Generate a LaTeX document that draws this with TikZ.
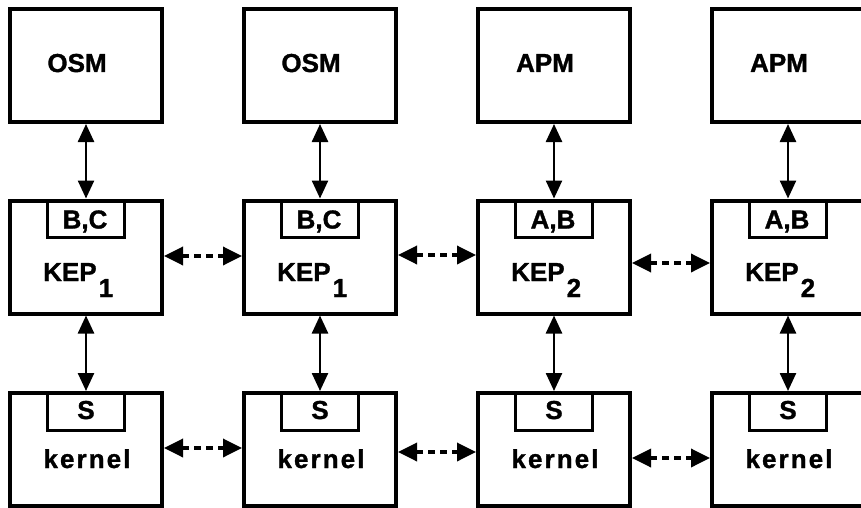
\documentclass[tikz,border=0pt]{standalone}
\usepackage{fontspec}
\setmainfont{Liberation Sans}[BoldFont={Liberation Sans Bold},BoldFeatures={FakeBold=1.2}]
\newfontfamily\kfont{Liberation Sans Bold}[LetterSpace=8,FakeBold=1.2]
\usetikzlibrary{arrows.meta,calc}
\begin{document}
\begin{tikzpicture}[x=1pt,y=-1pt,
  box/.style={draw,line width=4pt,minimum width=152pt,minimum height=113pt,inner sep=0pt},
  ibox/.style={draw,line width=3pt,minimum width=77pt,minimum height=37pt,inner sep=0pt,outer sep=0pt,anchor=north},
  txt/.style={font=\fontsize{26}{26}\selectfont\bfseries,inner sep=0pt,anchor=base},
  ktxt/.style={font=\fontsize{26}{26}\selectfont\kfont,inner sep=0pt,anchor=base},
  varrow/.style={line width=2.5pt,{Triangle[length=18pt,width=16pt]}-{Triangle[length=18pt,width=16pt]}},
  harrow/.style={line width=3.5pt,dash pattern=on 7pt off 5pt,{Triangle[length=19pt,width=18pt]}-{Triangle[length=19pt,width=18pt]}}]
\useasboundingbox (0,0) rectangle (861,508);
\clip (0,0) rectangle (861,508);
\foreach \i/\cx/\tl/\kidx/\ilab in {1/86/OSM/1/{B,C},2/320/OSM/1/{B,C},3/554/APM/2/{A,B},4/788/APM/2/{A,B}} {
  \node[box] (o\i) at (\cx,65.5) {};
  \node[box] (k\i) at (\cx,257) {};
  \node[box] (n\i) at (\cx,449.5) {};
  \node[ibox] (b\i) at ([yshift=-2pt]k\i.north) {};
  \node[ibox] (s\i) at ([yshift=-2pt]n\i.north) {};
  \node[txt] (ot\i) at (\cx-9,72) {\tl};
  \node[txt,anchor=base west] (kt\i) at (\cx-43,281) {KEP\hspace{2pt}\raisebox{-16pt}{\kidx}};
  \node[txt] (bt\i) at ($(b\i.south)+(-1,-9)$) {\ilab};
  \node[txt] (st\i) at ($(s\i.south)+(0,-11)$) {S};
  \node[ktxt] (nt\i) at (\cx+1,468) {kernel};
  \draw[varrow] (o\i.south) -- (k\i.north);
  \draw[varrow] (k\i.south) -- (n\i.north);
}
\draw[harrow] ([yshift=1pt]k1.east) -- ([yshift=1pt]k2.west);
\draw[harrow] ([yshift=2pt]k2.east) -- ([yshift=2pt]k3.west);
\draw[harrow] ([yshift=-6pt]k3.east) -- ([yshift=-6pt]k4.west);
\draw[harrow] ([yshift=1.5pt]n1.east) -- ([yshift=1.5pt]n2.west);
\draw[harrow] ([yshift=-2.5pt]n2.east) -- ([yshift=-2.5pt]n3.west);
\draw[harrow] ([yshift=-8.5pt]n3.east) -- ([yshift=-8.5pt]n4.west);
\end{tikzpicture}
\end{document}
